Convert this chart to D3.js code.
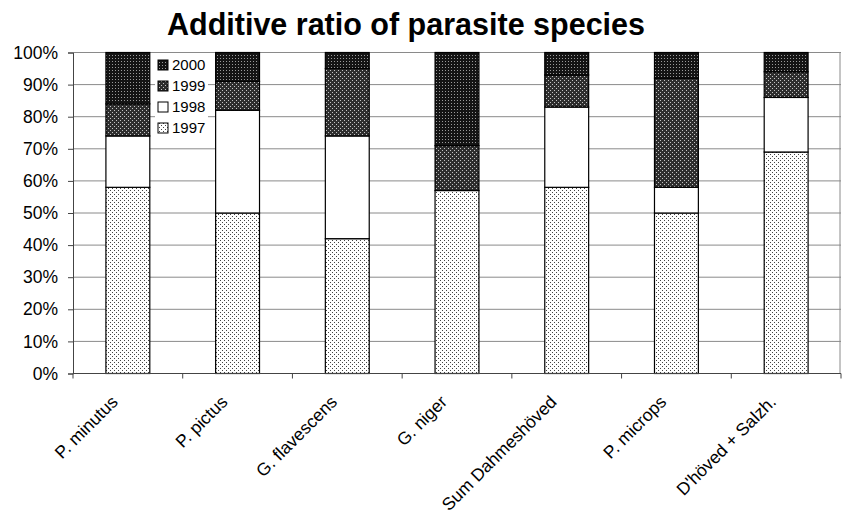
<!DOCTYPE html>
<html>
<head>
<meta charset="utf-8">
<script src="https://cdn.jsdelivr.net/npm/d3@7"></script>
<style>
  body { margin: 0; background: #fff; }
  text { font-family: "Liberation Sans", Arial, sans-serif; fill: #000; }
</style>
</head>
<body>
<div id="chart"></div>
<script>
const categories = ["P. minutus", "P. pictus", "G. flavescens", "G. niger", "Sum Dahmeshöved", "P. microps", "D'höved + Salzh."];
const years = ["1997", "1998", "1999", "2000"];
const v1997 = [58, 50, 42, 57, 58, 50, 69];
const v1998 = [16, 32, 32, 0, 25, 8, 17];
const v1999 = [10, 9, 21, 14, 10, 34, 8];
const v2000 = [16, 9, 5, 29, 7, 8, 6];
const yTicks = [0, 10, 20, 30, 40, 50, 60, 70, 80, 90, 100];

const rows = categories.map((c, i) => ({
  cat: c, "1997": v1997[i], "1998": v1998[i], "1999": v1999[i], "2000": v2000[i]
}));

const width = 842, height = 518;
const plot = {left: 73, right: 841, top: 52.5, bottom: 373.5};

const svg = d3.select("#chart").append("svg")
  .attr("width", width)
  .attr("height", height);

// fill patterns that imitate the print hatching
const defs = svg.append("defs");
function makePattern(id, size, bg, dots, dotColor) {
  const p = defs.append("pattern")
    .attr("id", id)
    .attr("patternUnits", "userSpaceOnUse")
    .attr("width", size).attr("height", size);
  p.append("rect").attr("width", size).attr("height", size).attr("fill", bg);
  dots.forEach(d => {
    p.append("rect").attr("x", d[0]).attr("y", d[1])
      .attr("width", 1).attr("height", 1).attr("fill", dotColor);
  });
}
makePattern("p1997", 4, "#ffffff", [[0, 0], [2, 2]], "#444");
makePattern("p1998", 4, "#ffffff", [], "#fff");
makePattern("p1999", 4, "#2e2e2e", [[0, 0], [2, 2]], "#c4c4c4");
makePattern("p2000", 3, "#141414", [[1, 1]], "#9a9a9a");
const fills = {"1997": "url(#p1997)", "1998": "url(#p1998)", "1999": "url(#p1999)", "2000": "url(#p2000)"};

const x = d3.scaleBand()
  .domain(categories)
  .range([plot.left, plot.right])
  .paddingInner(0.6)
  .paddingOuter(0.3);

const y = d3.scaleLinear()
  .domain([0, 100])
  .range([plot.bottom, plot.top]);

// gridlines
svg.append("g").selectAll("line")
  .data(yTicks.filter(t => t > 0))
  .join("line")
  .attr("x1", plot.left).attr("x2", plot.right)
  .attr("y1", d => y(d)).attr("y2", d => y(d))
  .attr("stroke", "#8a8a8a")
  .attr("stroke-width", 1);

// right border of plot area
svg.append("line")
  .attr("x1", plot.right - 1).attr("x2", plot.right - 1)
  .attr("y1", plot.top).attr("y2", plot.bottom)
  .attr("stroke", "#8a8a8a");

const stacked = d3.stack().keys(years)(rows);

svg.append("g").selectAll("g")
  .data(stacked)
  .join("g")
  .attr("fill", d => fills[d.key])
  .selectAll("rect")
  .data(d => d.filter(s => s[1] - s[0] > 0))
  .join("rect")
  .attr("x", d => x(d.data.cat))
  .attr("y", d => y(d[1]))
  .attr("width", x.bandwidth())
  .attr("height", d => y(d[0]) - y(d[1]))
  .attr("stroke", "#000")
  .attr("stroke-width", 1.2);

// y axis
const yAxis = svg.append("g")
  .attr("transform", `translate(${plot.left},0)`)
  .call(d3.axisLeft(y).tickValues(yTicks).tickSize(5).tickPadding(10).tickFormat(d => d + "%"));
yAxis.select(".domain").attr("stroke", "#444");
yAxis.selectAll(".tick line").attr("stroke", "#444");
yAxis.selectAll("text").style("font-size", "17.5px");

// x axis with ticks at category boundaries
const step = x.step();
const bounds = categories.map(c => x(c) + x.bandwidth() / 2 - step / 2);
bounds.push(x(categories[categories.length - 1]) + x.bandwidth() / 2 + step / 2);

svg.append("line")
  .attr("x1", plot.left).attr("x2", plot.right)
  .attr("y1", plot.bottom).attr("y2", plot.bottom)
  .attr("stroke", "#444");

svg.append("g").selectAll("line")
  .data(bounds)
  .join("line")
  .attr("x1", d => d).attr("x2", d => d)
  .attr("y1", plot.bottom).attr("y2", plot.bottom + 5)
  .attr("stroke", "#444");

svg.append("g").selectAll("text")
  .data(categories)
  .join("text")
  .attr("transform", d => `translate(${x(d) + x.bandwidth() / 2 - 9},${403}) rotate(-45)`)
  .attr("text-anchor", "end")
  .style("font-size", "17.5px")
  .text(d => d);

// legend
const legend = svg.append("g")
  .attr("transform", "translate(155,55)");

legend.append("rect")
  .attr("x", 0).attr("y", 0)
  .attr("width", 53).attr("height", 83)
  .attr("fill", "#fff");

years.slice().reverse().forEach((yr, i) => {
  const yPos = 5 + i * 21;
  legend.append("rect")
    .attr("x", 3)
    .attr("y", yPos)
    .attr("width", 10)
    .attr("height", 10)
    .attr("fill", fills[yr])
    .attr("stroke", "#000");
  legend.append("text")
    .attr("x", 17)
    .attr("y", yPos + 10)
    .style("font-size", "15px")
    .text(yr);
});

// title
svg.append("text")
  .attr("x", 406)
  .attr("y", 35)
  .attr("text-anchor", "middle")
  .style("font-size", "30.5px")
  .style("font-weight", "bold")
  .text("Additive ratio of parasite species");
</script>
</body>
</html>
